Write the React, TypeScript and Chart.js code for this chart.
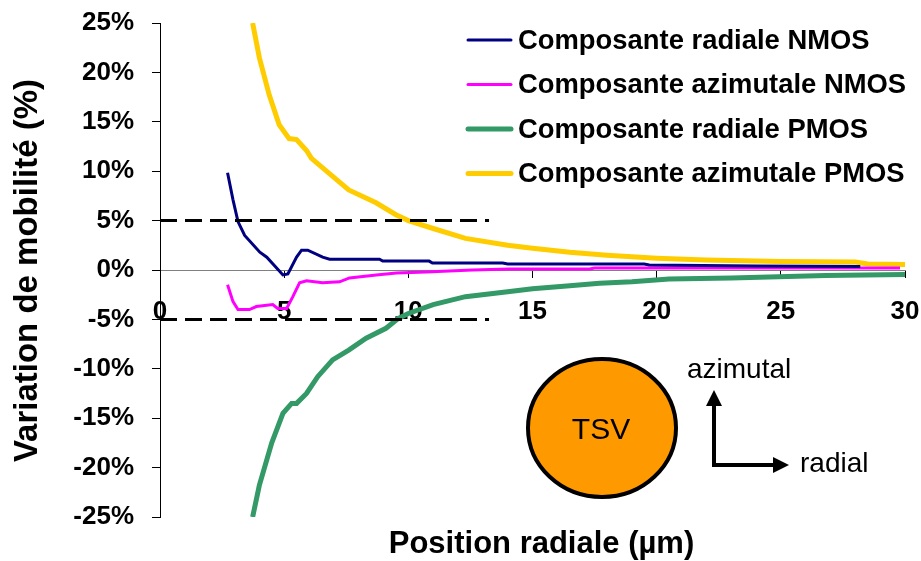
import React, { useEffect, useRef } from "react";
import { Chart, registerables } from "chart.js";

Chart.register(...registerables);

// ---- Data ----
const radialNmosX = [2.72, 2.94, 3.14, 3.41, 4.02, 4.3, 4.95, 5.15, 5.5, 5.7, 5.95, 6.55, 6.83, 8.84, 8.97, 10.84, 10.97, 13.8, 14.0, 19.5, 19.7, 24.0, 28.2];
const radialNmosY = [9.85, 7.1, 4.9, 3.5, 1.8, 1.3, -0.5, -0.4, 1.3, 2.0, 2.0, 1.3, 1.1, 1.1, 0.9, 0.9, 0.7, 0.7, 0.6, 0.6, 0.5, 0.4, 0.35];

const azimNmosX = [2.72, 2.94, 3.14, 3.6, 3.88, 4.54, 4.74, 5.1, 5.35, 5.62, 5.9, 6.55, 7.23, 7.63, 8.71, 9.52, 10.72, 12.57, 14.06, 17.3, 17.5, 22.0, 26.0, 29.8];
const azimNmosY = [-1.5, -3.2, -4.0, -4.0, -3.7, -3.5, -3.9, -3.9, -2.7, -1.3, -1.1, -1.3, -1.2, -0.8, -0.5, -0.3, -0.2, 0.0, 0.1, 0.1, 0.2, 0.2, 0.2, 0.2];

const radialPmosX = [3.73, 4.0, 4.5, 4.95, 5.3, 5.5, 5.9, 6.35, 6.95, 7.6, 8.3, 9.1, 9.6, 10.0, 11.0, 12.3, 14.0, 15.0, 16.5, 17.7, 19.0, 20.5, 23.0, 26.8, 30.0];
const radialPmosY = [-25, -21.8, -17.5, -14.5, -13.5, -13.5, -12.5, -10.8, -9.1, -8.1, -6.9, -5.9, -4.9, -4.4, -3.5, -2.7, -2.2, -1.9, -1.6, -1.35, -1.2, -0.9, -0.8, -0.55, -0.45];

const azimPmosX = [3.73, 4.0, 4.4, 4.8, 5.2, 5.5, 5.9, 6.1, 6.8, 7.6, 8.7, 9.5, 10.0, 11.0, 12.3, 14.0, 15.0, 16.5, 18.0, 20.0, 22.0, 25.0, 28.0, 28.5, 30.0];
const azimPmosY = [25, 21.5, 17.7, 14.7, 13.3, 13.2, 12.1, 11.3, 9.8, 8.1, 6.8, 5.6, 5.0, 4.2, 3.2, 2.5, 2.2, 1.8, 1.5, 1.2, 1.0, 0.85, 0.8, 0.6, 0.55];

const limitX = [0, 13.25];
const upperLimitY = [5, 5];
const lowerLimitY = [-5, -5];

const seriesLabels = [
  "Composante radiale NMOS",
  "Composante azimutale NMOS",
  "Composante radiale PMOS",
  "Composante azimutale PMOS",
];
const seriesColors = ["#000080", "#FF00FF", "#339966", "#FFCC00"];
const seriesWidths = [3, 3, 5, 5];

const xTitle = "Position radiale (µm)";
const yTitle = "Variation de mobilité (%)";
const tsvLabel = "TSV";
const azimLabel = "azimutal";
const radialLabel = "radial";

const FONT = "'Liberation Sans', Arial, Helvetica, sans-serif";

const toPoints = (xs: number[], ys: number[]) => xs.map((x, i) => ({ x, y: ys[i] }));

const overlayPlugin = {
  id: "overlay",
  afterDraw(chart: any) {
    const ctx: CanvasRenderingContext2D = chart.ctx;
    ctx.save();

    // Legend
    const rowsY = [40, 84.5, 129, 173.5];
    ctx.font = `bold 27.4px ${FONT}`;
    ctx.textBaseline = "middle";
    ctx.textAlign = "left";
    seriesLabels.forEach((lab, i) => {
      ctx.strokeStyle = seriesColors[i];
      ctx.lineWidth = seriesWidths[i];
      ctx.lineCap = "round";
      ctx.beginPath();
      ctx.moveTo(468, rowsY[i]);
      ctx.lineTo(511, rowsY[i]);
      ctx.stroke();
      ctx.fillStyle = "#000";
      ctx.fillText(lab, 518, rowsY[i] + 1);
    });

    // Axis titles
    ctx.fillStyle = "#000";
    ctx.font = `bold 31px ${FONT}`;
    ctx.textAlign = "center";
    ctx.textBaseline = "alphabetic";
    ctx.fillText(xTitle, 541.5, 553);

    ctx.save();
    ctx.translate(37, 270.5);
    ctx.rotate(-Math.PI / 2);
    ctx.font = `bold 33px ${FONT}`;
    ctx.fillText(yTitle, 0, 0);
    ctx.restore();

    // TSV circle
    ctx.beginPath();
    ctx.ellipse(602, 428, 74, 69, 0, 0, Math.PI * 2);
    ctx.fillStyle = "#FF9900";
    ctx.fill();
    ctx.lineWidth = 4;
    ctx.strokeStyle = "#000";
    ctx.stroke();
    ctx.fillStyle = "#000";
    ctx.font = `30px ${FONT}`;
    ctx.textAlign = "center";
    ctx.textBaseline = "middle";
    ctx.fillText(tsvLabel, 601, 431);

    // Arrows
    ctx.lineWidth = 4;
    ctx.lineCap = "butt";
    ctx.lineJoin = "miter";
    ctx.beginPath();
    ctx.moveTo(714, 404);
    ctx.lineTo(714, 465);
    ctx.lineTo(774, 465);
    ctx.stroke();
    ctx.beginPath();
    ctx.moveTo(714, 390);
    ctx.lineTo(706, 406);
    ctx.lineTo(722, 406);
    ctx.closePath();
    ctx.fill();
    ctx.beginPath();
    ctx.moveTo(789, 465);
    ctx.lineTo(773, 457);
    ctx.lineTo(773, 473);
    ctx.closePath();
    ctx.fill();

    ctx.font = `28px ${FONT}`;
    ctx.textAlign = "left";
    ctx.textBaseline = "alphabetic";
    ctx.fillText(azimLabel, 687, 378);
    ctx.fillText(radialLabel, 800, 472);

    ctx.restore();
  },
};

const zeroScalePadding = (scale: any) => {
  scale.paddingTop = 0;
  scale.paddingBottom = 0;
  scale.paddingLeft = 0;
  scale.paddingRight = 0;
};

export default function App() {
  const ref = useRef<HTMLCanvasElement | null>(null);

  useEffect(() => {
    document.body.style.margin = "0";
    const canvas = ref.current;
    if (!canvas) return;
    const seriesX = [radialNmosX, azimNmosX, radialPmosX, azimPmosX];
    const seriesY = [radialNmosY, azimNmosY, radialPmosY, azimPmosY];
    const dashed = {
      borderColor: "#000",
      borderWidth: 3,
      borderDash: [17, 8],
      pointRadius: 0,
      fill: false,
    };
    const chart = new Chart(canvas, {
      type: "line",
      data: {
        datasets: [
          { label: "lim+", data: toPoints(limitX, upperLimitY), ...dashed },
          { label: "lim-", data: toPoints(limitX, lowerLimitY), ...dashed },
          ...seriesLabels.map((label, i) => ({
            label,
            data: toPoints(seriesX[i], seriesY[i]),
            borderColor: seriesColors[i],
            backgroundColor: seriesColors[i],
            borderWidth: seriesWidths[i],
            pointRadius: 0,
            tension: 0,
            fill: false,
          })),
        ],
      },
      options: {
        responsive: false,
        animation: false,
        devicePixelRatio: 1,
        layout: { padding: { left: 0, right: 16, top: 23, bottom: 44 } },
        plugins: {
          legend: { display: false },
          tooltip: { enabled: false },
          title: { display: false },
        },
        scales: {
          x: {
            type: "linear",
            min: 0,
            max: 30,
            position: { y: 0 } as any,
            border: { display: true, color: "#808080", width: 1 },
            grid: { drawOnChartArea: false, drawTicks: true, tickLength: 7, color: "#000" },
            ticks: {
              stepSize: 5,
              padding: 19,
              color: "#000",
              font: { family: FONT, size: 26, weight: "bold" },
              maxRotation: 0,
            },
            afterFit: zeroScalePadding,
          },
          y: {
            type: "linear",
            min: -25,
            max: 25,
            position: "left",
            border: { display: true, color: "#000", width: 1 },
            grid: { drawOnChartArea: false, drawTicks: true, tickLength: 8, color: "#000" },
            ticks: {
              stepSize: 5,
              padding: 18,
              color: "#000",
              font: { family: FONT, size: 26, weight: "bold" },
              callback: (v: any) => `${v}%`,
            },
            afterFit: (scale: any) => {
              scale.width = 160;
              zeroScalePadding(scale);
            },
          },
        },
      },
      plugins: [overlayPlugin],
    });
    return () => chart.destroy();
  }, []);

  return (
    <div style={{ width: 921, height: 561, background: "#fff" }}>
      <canvas ref={ref} width={921} height={561} style={{ display: "block" }} />
    </div>
  );
}
